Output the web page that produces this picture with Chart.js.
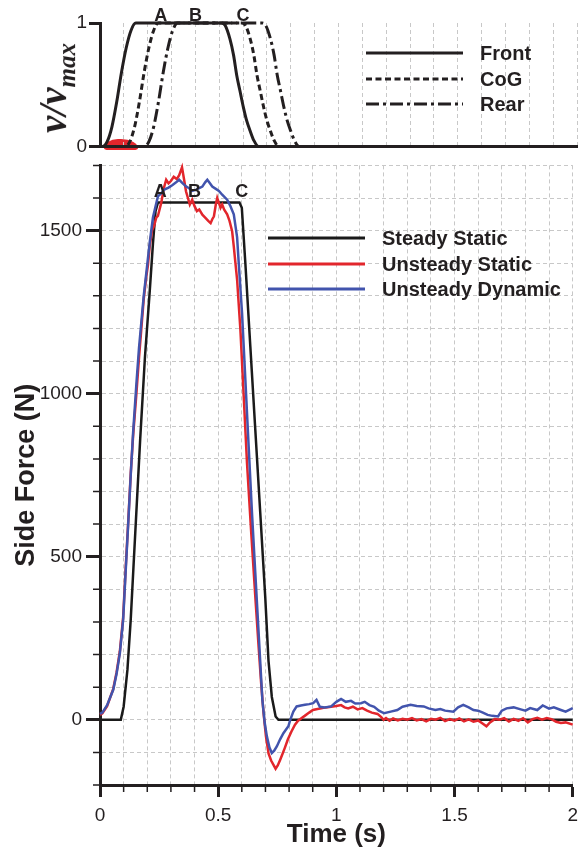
<!DOCTYPE html>
<html>
<head>
<meta charset="utf-8">
<script src="https://cdn.jsdelivr.net/npm/chart.js@4.4.1/dist/chart.umd.min.js"></script>
<style>
  html, body { margin: 0; padding: 0; background: #fff; }
  #page { position: relative; width: 585px; height: 848px; overflow: hidden; font-family: "Liberation Sans", Arial, sans-serif; color: #231f20; }
  .panel { position: absolute; left: 0; width: 585px; }
  #top-wrap { top: 0; height: 160px; }
  #bot-wrap { top: 150px; height: 698px; }
  .legend-line { position: absolute; }
  .legend-text { position: absolute; font-size: 20px; line-height: 24px; font-weight: bold; white-space: nowrap; }
  .marker { position: absolute; font-size: 18px; line-height: 20px; font-weight: bold; transform: translate(-50%, -50%); }
  #vlabel { position: absolute; left: 56px; top: 88px; transform: translate(-50%, -50%) rotate(-90deg); font-family: "Liberation Serif", "DejaVu Serif", serif; font-style: italic; font-weight: bold; font-size: 39px; line-height: 1; white-space: nowrap; }
  #vlabel sub { font-size: 25px; }
  #car { position: absolute; left: 104px; top: 139px; width: 34px; height: 11px; background: #e2262c; border-radius: 45% 55% 15% 15% / 90% 90% 20% 20%; }
</style>
</head>
<body>
<div id="page">
  <div id="car"></div>
  <div class="panel" id="top-wrap"><canvas id="top-chart"></canvas></div>
  <div class="panel" id="bot-wrap"><canvas id="bot-chart"></canvas></div>
  <div id="vlabel">v/v<sub>max</sub></div>
</div>
<script>
const AXIS_COLOR = "#231f20";
const GRID_COLOR = "#c8c8c8";
const STEADY_COLOR = "#1a1a1a";
const STATIC_COLOR = "#e2262c";
const DYNAMIC_COLOR = "#4254ad";

// top panel: normalised speed of front / CoG / rear
const frontT = [0, 0.01, 0.03, 0.05, 0.07, 0.09, 0.11, 0.13, 0.15, 0.51, 0.525, 0.545, 0.56, 0.573, 0.587, 0.601, 0.615, 0.629, 0.645, 0.665, 2];
const frontV = [0, 0, 0.04, 0.16, 0.36, 0.6, 0.8, 0.94, 1, 1, 0.98, 0.87, 0.74, 0.58, 0.45, 0.32, 0.21, 0.13, 0.05, 0, 0];
const cogT = [0, 0.105, 0.125, 0.145, 0.165, 0.185, 0.205, 0.225, 0.245, 0.595, 0.61, 0.63, 0.645, 0.658, 0.672, 0.686, 0.7, 0.714, 0.73, 0.75, 2];
const cogV = [0, 0, 0.04, 0.16, 0.36, 0.6, 0.8, 0.94, 1, 1, 0.98, 0.87, 0.74, 0.58, 0.45, 0.32, 0.21, 0.13, 0.05, 0, 0];
const rearT = [0, 0.185, 0.205, 0.225, 0.245, 0.265, 0.285, 0.305, 0.325, 0.68, 0.695, 0.715, 0.73, 0.743, 0.757, 0.771, 0.785, 0.799, 0.815, 0.835, 2];
const rearV = [0, 0, 0.04, 0.16, 0.36, 0.6, 0.8, 0.94, 1, 1, 0.98, 0.87, 0.74, 0.58, 0.45, 0.32, 0.21, 0.13, 0.05, 0, 0];

// bottom panel: side force (N)
const steadyT = [0, 0.088, 0.1, 0.116, 0.13, 0.141, 0.17, 0.19, 0.21, 0.224, 0.235, 0.245, 0.59, 0.6, 0.615, 0.636, 0.657, 0.678, 0.699, 0.713, 0.727, 0.743, 0.755, 2];
const steadyF = [0, 0, 40, 153, 307, 460, 860, 1110, 1310, 1460, 1560, 1586, 1586, 1570, 1400, 1145, 890, 635, 378, 180, 70, 10, 0, 0];

const staticT = [0, 0.01, 0.03, 0.056, 0.07, 0.084, 0.098, 0.109, 0.12, 0.13,
  0.14, 0.154, 0.165, 0.175, 0.185, 0.196, 0.203, 0.21, 0.22, 0.229,
  0.238, 0.245, 0.259, 0.27, 0.28, 0.29, 0.3, 0.312, 0.325, 0.335,
  0.347, 0.355, 0.364, 0.372, 0.38, 0.39, 0.4, 0.41, 0.42, 0.433,
  0.445, 0.458, 0.468, 0.475, 0.482, 0.49, 0.496, 0.503, 0.51, 0.517,
  0.525, 0.538, 0.548, 0.559, 0.566, 0.573, 0.58, 0.594, 0.608, 0.622,
  0.639, 0.657, 0.671, 0.682, 0.692, 0.702, 0.713, 0.724, 0.734, 0.743,
  0.752, 0.762, 0.772, 0.782, 0.795, 0.81, 0.825, 0.838, 0.852, 0.866,
  0.885, 0.901, 0.92, 0.936, 0.955, 0.978, 1.0, 1.02, 1.035, 1.05,
  1.07, 1.09, 1.11, 1.13, 1.15, 1.174, 1.19, 1.2, 1.21, 1.225,
  1.24, 1.26, 1.28, 1.3, 1.32, 1.34, 1.36, 1.38, 1.4, 1.42,
  1.44, 1.46, 1.48, 1.5, 1.52, 1.54, 1.56, 1.58, 1.6, 1.62,
  1.635, 1.65, 1.67, 1.69, 1.71, 1.73, 1.75, 1.77, 1.79, 1.81,
  1.83, 1.85, 1.87, 1.89, 1.91, 1.93, 1.95, 1.97, 2.0];
const staticF = [15, 20, 42, 95, 145, 210, 315, 470, 615, 755,
  870, 1000, 1110, 1200, 1290, 1360, 1395, 1450, 1500, 1515,
  1540, 1545, 1585, 1630, 1656, 1645, 1652, 1665, 1658, 1670,
  1694, 1660, 1620, 1600, 1580, 1595, 1575, 1560, 1565, 1549,
  1540, 1530, 1523, 1535, 1544, 1580, 1600, 1585, 1570, 1580,
  1565, 1550, 1530, 1498, 1452, 1400, 1350, 1196, 992, 787,
  583, 378, 225, 110, 20, -50, -103, -125, -138, -150,
  -140, -123, -105, -86, -60, -36, -15, -3, 5, 12,
  22, 30, 33, 35, 38, 40, 42, 45, 38, 35,
  40, 32, 36, 28, 22, 18, 8, 0, 5, -3,
  4, -2, 3, 0, 5, -2, 2, -5, 3, 0,
  6, -4, 2, -3, 4, -5, 1, -6, -2, -12,
  -20, -8, 2, 0, 5, -5, 3, -3, 5, -8,
  2, 6, 0, 5, 2, -6, -10, -8, -15];

const dynamicT = [0, 0.01, 0.03, 0.056, 0.07, 0.084, 0.098, 0.109, 0.12, 0.13,
  0.14, 0.154, 0.165, 0.175, 0.185, 0.196, 0.21, 0.224, 0.245, 0.26,
  0.272, 0.29, 0.307, 0.322, 0.335, 0.35, 0.365, 0.377, 0.39, 0.405,
  0.42, 0.433, 0.445, 0.454, 0.465, 0.475, 0.49, 0.503, 0.517, 0.538,
  0.552, 0.566, 0.58, 0.587, 0.601, 0.615, 0.629, 0.643, 0.657, 0.667,
  0.677, 0.687, 0.697, 0.706, 0.717, 0.727, 0.737, 0.748, 0.762, 0.776,
  0.797, 0.805, 0.818, 0.832, 0.85, 0.867, 0.885, 0.902, 0.916, 0.93,
  0.95, 0.978, 1.0, 1.02, 1.04, 1.062, 1.08, 1.104, 1.12, 1.14,
  1.16, 1.18, 1.202, 1.23, 1.258, 1.28, 1.314, 1.34, 1.37, 1.39,
  1.419, 1.44, 1.46, 1.495, 1.515, 1.537, 1.56, 1.58, 1.6, 1.62,
  1.64, 1.66, 1.684, 1.7, 1.72, 1.75, 1.78, 1.8, 1.82, 1.85,
  1.873, 1.9, 1.92, 1.95, 1.97, 2.0];
const dynamicF = [18, 22, 45, 92, 140, 204, 307, 460, 610, 750,
  880, 1030, 1140, 1220, 1300, 1370, 1462, 1540, 1605, 1615,
  1626, 1632, 1640, 1648, 1656, 1645, 1635, 1630, 1622, 1625,
  1630, 1635, 1648, 1656, 1645, 1635, 1628, 1622, 1610, 1595,
  1575, 1550, 1480, 1400, 1247, 1043, 838, 635, 451, 320,
  190, 60, -10, -51, -85, -102, -95, -82, -60, -41,
  -20, 0, 25, 41, 44, 46, 48, 51, 61, 40,
  38, 41, 55, 64, 55, 58, 50, 51, 55, 45,
  40, 28, 20, 25, 30, 40, 46, 42, 41, 35,
  30, 33, 28, 25, 38, 46, 38, 30, 28, 22,
  15, 12, 10, 28, 35, 38, 32, 28, 36, 30,
  44, 34, 38, 30, 25, 36];

const markerT = [0.255, 0.4, 0.6];
const markerLabels = ["A", "B", "C"];

const topLegend = [
  { label: "Front", color: AXIS_COLOR, dash: [] },
  { label: "CoG", color: AXIS_COLOR, dash: [6, 3.5] },
  { label: "Rear", color: AXIS_COLOR, dash: [13, 4, 3, 4] },
];
const botLegend = [
  { label: "Steady Static", color: STEADY_COLOR, dash: [] },
  { label: "Unsteady Static", color: STATIC_COLOR, dash: [] },
  { label: "Unsteady Dynamic", color: DYNAMIC_COLOR, dash: [] },
];

const TICK_FONT = { family: '"Liberation Sans", Arial, sans-serif', size: 19 };
const X_TITLE_FONT = { family: '"Liberation Sans", Arial, sans-serif', size: 26, weight: "bold", lineHeight: 1 };
const Y_TITLE_FONT = { family: '"Liberation Sans", Arial, sans-serif', size: 27, weight: "bold", lineHeight: 1 };

function pts(xs, ys) {
  return xs.map((x, i) => ({ x, y: ys[i] }));
}

function near(v, step) {
  return Math.abs(v / step - Math.round(v / step)) < 1e-6;
}

function tickColorFor(step) {
  return (ctx) => (ctx.tick && near(ctx.tick.value, step) ? AXIS_COLOR : "rgba(0,0,0,0)");
}

// short minor ticks, drawn outside the chart area
const minorTicks = {
  id: "minorTicks",
  afterDraw(chart, args, opts) {
    const ctx = chart.ctx;
    const area = chart.chartArea;
    ctx.save();
    ctx.strokeStyle = AXIS_COLOR;
    ctx.lineWidth = 1.5;
    ctx.beginPath();
    if (opts.y) {
      const sy = chart.scales.y;
      sy.ticks.forEach((t) => {
        if (near(t.value, opts.y)) return;
        const py = sy.getPixelForValue(t.value);
        ctx.moveTo(area.left - 7, py);
        ctx.lineTo(area.left - 1, py);
      });
    }
    if (opts.x) {
      const sx = chart.scales.x;
      sx.ticks.forEach((t) => {
        if (near(t.value, opts.x)) return;
        const px = sx.getPixelForValue(t.value);
        ctx.moveTo(px, area.bottom + 1);
        ctx.lineTo(px, area.bottom + 7);
      });
    }
    ctx.stroke();
    ctx.restore();
  },
};

function lineDs(label, data, color, width, dash, smooth) {
  return {
    label,
    data,
    borderColor: color,
    backgroundColor: color,
    borderWidth: width,
    borderDash: dash,
    pointRadius: 0,
    tension: 0,
    cubicInterpolationMode: smooth ? "monotone" : "default",
    fill: false,
    clip: 6,
  };
}

function addLegend(page, items, lineX, textX, rowYs) {
  items.forEach((it, i) => {
    const y = rowYs[i];
    const ns = "http://www.w3.org/2000/svg";
    const svg = document.createElementNS(ns, "svg");
    svg.setAttribute("class", "legend-line");
    svg.setAttribute("width", "97");
    svg.setAttribute("height", "6");
    svg.style.left = lineX + "px";
    svg.style.top = y - 3 + "px";
    const ln = document.createElementNS(ns, "line");
    ln.setAttribute("x1", "0");
    ln.setAttribute("y1", "3");
    ln.setAttribute("x2", "97");
    ln.setAttribute("y2", "3");
    ln.setAttribute("stroke", it.color);
    ln.setAttribute("stroke-width", "3");
    if (it.dash.length) ln.setAttribute("stroke-dasharray", it.dash.join(","));
    svg.appendChild(ln);
    page.appendChild(svg);
    const tx = document.createElement("div");
    tx.className = "legend-text";
    tx.style.left = textX + "px";
    tx.style.top = y - 12 + "px";
    tx.textContent = it.label;
    page.appendChild(tx);
  });
}

function addMarkers(page, chart, offsetTop, cy) {
  markerT.forEach((t, i) => {
    const d = document.createElement("div");
    d.className = "marker";
    d.style.left = chart.scales.x.getPixelForValue(t) + "px";
    d.style.top = offsetTop + cy + "px";
    d.textContent = markerLabels[i];
    page.appendChild(d);
  });
}

Chart.defaults.font.family = TICK_FONT.family;
Chart.defaults.color = AXIS_COLOR;

const topChart = new Chart(document.getElementById("top-chart"), {
  type: "line",
  data: {
    datasets: [
      lineDs("Front", pts(frontT, frontV), AXIS_COLOR, 3, [], true),
      lineDs("CoG", pts(cogT, cogV), AXIS_COLOR, 3, [6, 3.5], true),
      lineDs("Rear", pts(rearT, rearV), AXIS_COLOR, 3, [13, 4, 3, 4], true),
    ],
  },
  options: {
    responsive: true,
    maintainAspectRatio: false,
    animation: false,
    events: [],
    layout: { padding: { top: 23, right: 8, bottom: 9, left: 0 } },
    plugins: { legend: { display: false }, tooltip: { enabled: false } },
    scales: {
      x: {
        type: "linear",
        min: 0,
        max: 2,
        afterFit(scale) { scale.height = 0; },
        ticks: { display: false, stepSize: 0.1, autoSkip: false },
        grid: { color: GRID_COLOR, lineWidth: 1, drawTicks: false },
        border: { display: true, color: AXIS_COLOR, width: 3, dash: [4, 3] },
      },
      y: {
        min: 0,
        max: 1,
        afterFit(scale) { scale.width = 100; },
        ticks: { stepSize: 1, padding: 2, font: TICK_FONT, color: AXIS_COLOR },
        grid: { drawOnChartArea: false, tickLength: 11, tickWidth: 3, tickColor: AXIS_COLOR },
        border: { display: true, color: AXIS_COLOR, width: 3 },
      },
    },
  },
});

const botChart = new Chart(document.getElementById("bot-chart"), {
  type: "line",
  data: {
    datasets: [
      lineDs("Unsteady Dynamic", pts(dynamicT, dynamicF), DYNAMIC_COLOR, 2.5, [], false),
      lineDs("Unsteady Static", pts(staticT, staticF), STATIC_COLOR, 2.5, [], false),
      lineDs("Steady Static", pts(steadyT, steadyF), STEADY_COLOR, 2.5, [], false),
    ],
  },
  options: {
    responsive: true,
    maintainAspectRatio: false,
    animation: false,
    events: [],
    layout: { padding: { top: 15, right: 8, bottom: 0, left: 0 } },
    plugins: {
      legend: { display: false },
      tooltip: { enabled: false },
      minorTicks: { x: 0.5, y: 500 },
    },
    scales: {
      x: {
        type: "linear",
        min: 0,
        max: 2,
        afterFit(scale) { scale.height = 63; },
        ticks: {
          stepSize: 0.1,
          autoSkip: false,
          maxRotation: 0,
          padding: 7,
          font: TICK_FONT,
          color: AXIS_COLOR,
          callback: (v) => (near(v, 0.5) ? String(Math.round(v * 10) / 10) : ""),
        },
        grid: { color: GRID_COLOR, lineWidth: 1, tickLength: 12, tickWidth: 3, tickColor: tickColorFor(0.5), tickBorderDash: [] },
        border: { display: true, color: AXIS_COLOR, width: 3, dash: [4, 3] },
        title: { display: true, text: "Time (s)", font: X_TITLE_FONT, color: AXIS_COLOR, padding: { top: 0, bottom: 0 } },
      },
      y: {
        min: -200,
        max: 1700,
        afterFit(scale) { scale.width = 100; },
        ticks: {
          stepSize: 100,
          autoSkip: false,
          padding: 4,
          font: TICK_FONT,
          color: AXIS_COLOR,
          callback: (v) => (near(v, 500) ? String(v) : ""),
        },
        grid: { color: GRID_COLOR, lineWidth: 1, tickLength: 14, tickWidth: 3, tickColor: tickColorFor(500), tickBorderDash: [] },
        border: { display: true, color: AXIS_COLOR, width: 3, dash: [4, 3] },
        title: { display: true, text: "Side Force (N)", font: Y_TITLE_FONT, color: AXIS_COLOR, padding: { top: 13, bottom: 0 } },
      },
    },
  },
  plugins: [minorTicks],
});

const page = document.getElementById("page");
addLegend(page, topLegend, 366, 480, [53, 79, 104]);
addLegend(page, botLegend, 268, 382, [238, 264, 289]);
addMarkers(page, topChart, 0, 15);
addMarkers(page, botChart, 150, 41);
</script>
</body>
</html>
